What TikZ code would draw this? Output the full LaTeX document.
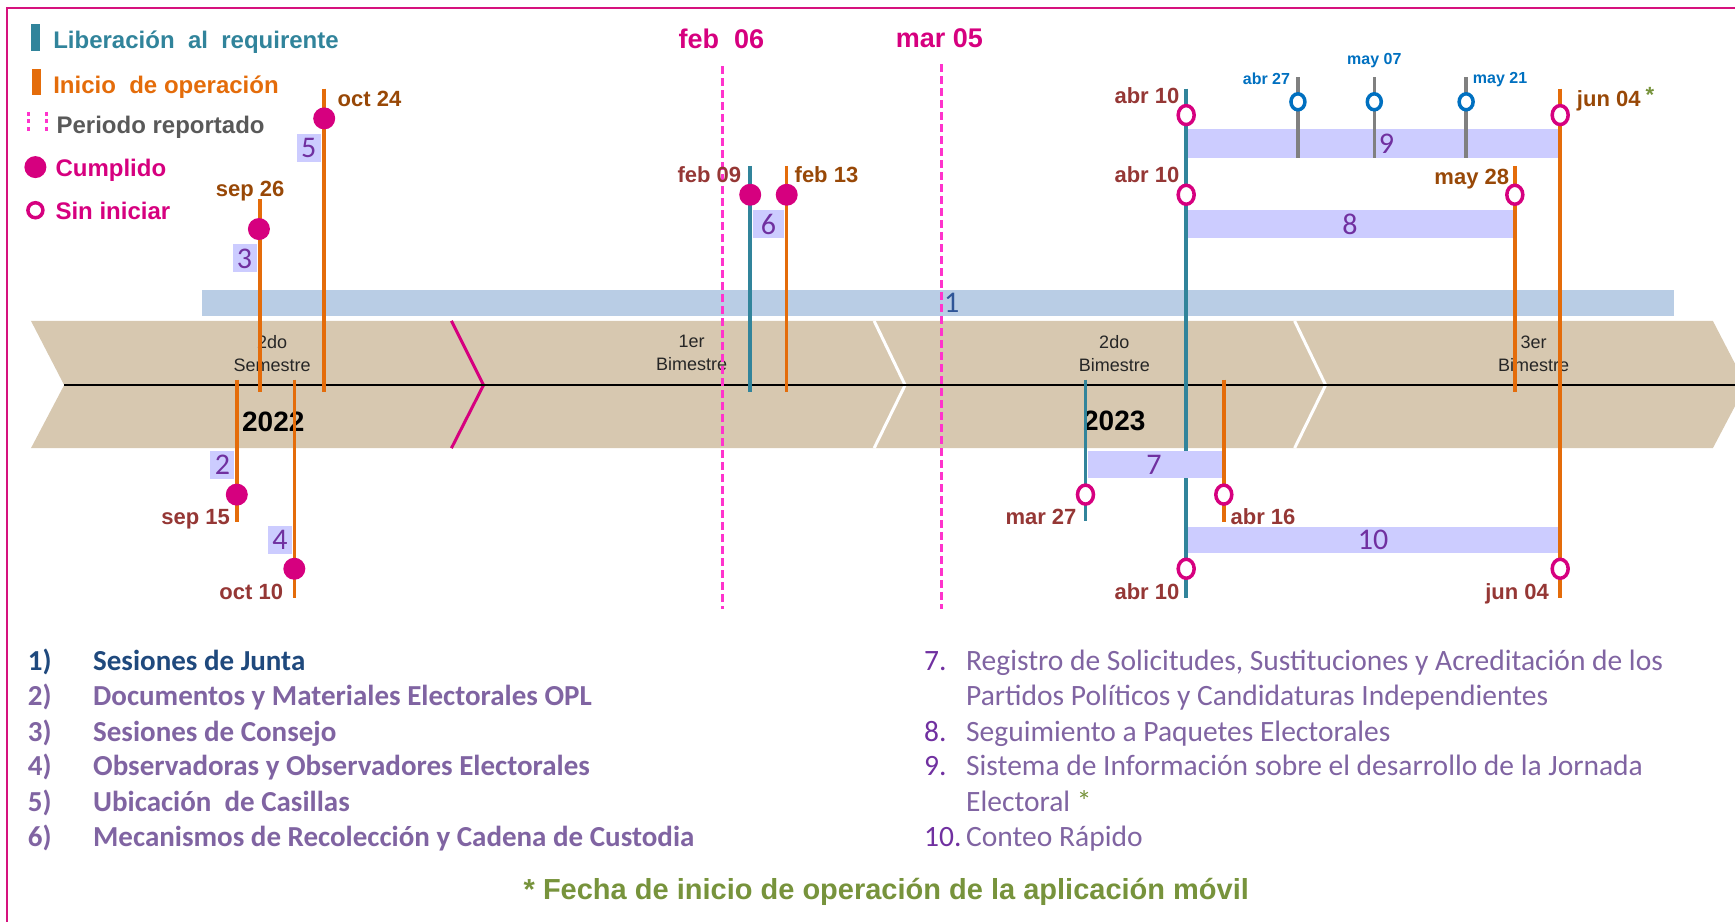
\documentclass[tikz,border=0pt]{standalone}
\usepackage{fontspec}
\setmainfont{Liberation Sans}
\newfontfamily\calfont{Carlito}
\usetikzlibrary{shapes.geometric}
\definecolor{marco}{RGB}{214,18,126}
\definecolor{rosa}{RGB}{214,0,127}
\definecolor{perrosa}{RGB}{255,51,204}
\definecolor{libteal}{RGB}{49,132,155}
\definecolor{inior}{RGB}{228,108,10}
\definecolor{grisln}{RGB}{128,128,128}
\definecolor{gristx}{RGB}{89,89,89}
\definecolor{azul}{RGB}{0,112,192}
\definecolor{barauno}{RGB}{185,205,229}
\definecolor{lila}{RGB}{204,204,255}
\definecolor{tan}{RGB}{215,200,176}
\definecolor{morado}{RGB}{112,48,160}
\definecolor{lavtx}{RGB}{128,100,162}
\definecolor{azulosc}{RGB}{31,73,125}
\definecolor{azulnum}{RGB}{47,85,151}
\definecolor{fecharoja}{RGB}{149,55,53}
\definecolor{fechacafe}{RGB}{152,72,7}
\definecolor{verde}{RGB}{119,147,60}
\begin{document}
\begin{tikzpicture}[x=1.1065pt,y=-1.1065pt,
  lib/.style={draw=libteal,line width=3.5pt},
  ini/.style={draw=inior,line width=3.5pt},
  gris/.style={draw=grisln,line width=3.5pt},
  periodo/.style={draw=perrosa,line width=2.8pt,dash pattern=on 8pt off 4pt},
  hecho/.style={circle,fill=rosa,minimum size=22pt,inner sep=0pt},
  pend/.style={ellipse,draw=rosa,fill=white,line width=3.5pt,minimum width=16pt,minimum height=19pt,inner sep=0pt},
  pendaz/.style={pend,draw=azul,minimum width=14pt,minimum height=16pt},
  numbox/.style={fill=lila,text=morado,font=\calfont\fontsize{30}{30}\selectfont,inner sep=0pt,minimum width=24pt,minimum height=28pt},
  numtxt/.style={text=morado,font=\calfont\fontsize{30}{30}\selectfont,inner sep=0pt},
  fecha/.style={font=\bfseries\fontsize{22}{22}\selectfont,inner sep=0pt,text height=20pt,text depth=1pt},
  fechaaz/.style={font=\bfseries\fontsize{16}{16}\selectfont,inner sep=0pt,text=azul,text height=12.5pt,text depth=1.3pt},
  ley/.style={anchor=west,font=\bfseries\fontsize{24}{24}\selectfont,inner sep=0pt,text height=20pt,text depth=1pt},
  banda/.style={align=center,font=\fontsize{18}{23}\selectfont,inner sep=0pt,text=black!85},
  anio/.style={font=\bfseries\fontsize{28}{28}\selectfont,inner sep=0pt},
  lista/.style={anchor=west,font=\calfont\fontsize{29.5}{29.5}\selectfont,inner sep=0pt,text height=23pt,text depth=1pt},
  listab/.style={lista,font=\calfont\bfseries\fontsize{29}{29}\selectfont}
]
\useasboundingbox (0,0) rectangle (1568,833);
\draw[marco,line width=2pt] (6,840)--(6,7)--(1580,7);
% leyenda
\fill[libteal] (28,22) rectangle (36,46);
\node[ley,text=libteal] (lglib) at (48,35) {Liberación\ \ al\ \ requirente};
\fill[inior] (29,62) rectangle (37,86);
\node[ley,text=inior] (lgini) at (48,76) {Inicio\ \ de\ operación};
\draw[perrosa,line width=3pt,dash pattern=on 4pt off 3.5pt] (26,101)--(26,121);
\draw[perrosa,line width=3pt,dash pattern=on 4pt off 3.5pt] (42,101)--(42,121);
\node[ley,text=gristx] (lgper) at (51,112) {Periodo\ reportado};
\node[hecho] (lghecho) at (32,151) {};
\node[ley,text=rosa] (lgcum) at (50,151) {Cumplido};
\node[pend,minimum width=15pt,minimum height=15pt] (lgpend) at (32,190) {};
\node[ley,text=rosa] (lgsin) at (50,190) {Sin iniciar};
% barra 1 y banda
\fill[barauno] (183,262) rectangle (1513,286);
\node[numtxt,text=azulnum] (n1) at (860,274) {1};
\fill[tan] (28,290)--(1548,290)--(1578,348)--(1548,405)--(28,405)--(58,348)--cycle;
\draw[rosa,line width=3pt] (408,290)--(437,348)--(408,405);
\draw[white,line width=3pt] (790,290)--(818,348)--(790,405);
\draw[white,line width=3pt] (1170,290)--(1198,348)--(1170,405);
\draw[black,line width=2.2pt] (58,348)--(1568,348);
\node[banda] (sem) at (246,319.5) {2do\\Semestre};
\node[banda] (bim1) at (625,318.5) {1er\\Bimestre};
\node[banda] (bim2) at (1007,319.5) {2do\\Bimestre};
\node[banda] (bim3) at (1386,319.5) {3er\\Bimestre};
\node[anio] (a22) at (247,381) {2022};
\node[anio] (a23) at (1007,380) {2023};
% periodo reportado
\draw[periodo] (653,60)--(653,550);
\draw[periodo] (851,58)--(851,550);
\node[fecha,text=rosa,font=\bfseries\fontsize{27}{27}\selectfont] (p1) at (652,35) {feb\ \ 06};
\node[fecha,text=rosa,font=\bfseries\fontsize{27}{27}\selectfont] (p2) at (849,34) {mar\ 05};
% barras 8 9 10
\draw[lib] (1072,80)--(1072,540);
\fill[lila] (1074,117) rectangle (1410,143);
\fill[lila] (1074,190) rectangle (1368,215);
\fill[lila] (1074,476) rectangle (1410,500);
\fill[lila] (983,408) rectangle (1104,432);
% actividades 2 a 5
\draw[ini] (214,343)--(214,472);
\draw[ini] (235,180)--(235,354);
\draw[ini] (266,343)--(266,540);
\draw[ini] (293,80)--(293,354);
\node[numbox] (n2) at (201,420) {2};
\node[numbox] (n3) at (221,233.5) {3};
\node[numbox] (n4) at (253,488) {4};
\node[numbox] (n5) at (279,134) {5};
\node[hecho] (c2) at (214,447) {};
\node[hecho] (c3) at (234,207) {};
\node[hecho] (c4) at (266,514) {};
\node[hecho] (c5) at (293,107) {};
\node[fecha,text=fecharoja,anchor=east] (f2) at (208,465) {sep 15};
\node[fecha,text=fechacafe] (f3) at (226,169) {sep 26};
\node[fecha,text=fecharoja,anchor=east] (f4) at (256,533) {oct 10};
\node[fecha,text=fechacafe,anchor=west] (f5) at (305,88) {oct 24};
% actividad 6
\draw[lib] (678,150)--(678,354);
\draw[ini] (711,150)--(711,354);
\node[numbox,minimum width=31pt] (n6) at (694.5,202.5) {6};
\node[hecho] (c6a) at (678,176) {};
\node[hecho] (c6b) at (711,176) {};
\node[fecha,text=fecharoja,anchor=east] (f6a) at (670,156) {feb 09};
\node[fecha,text=fechacafe,anchor=west] (f6b) at (718,156) {feb 13};
% actividad 7
\draw[lib] (981,343)--(981,471);
\draw[ini] (1106,343)--(1106,472);
\node[numtxt] (n7) at (1043,420) {7};
\node[pend] (c7a) at (981,447) {};
\node[pend] (c7b) at (1106,447) {};
\node[fecha,text=fecharoja,anchor=east] (f7a) at (973,465) {mar 27};
\node[fecha,text=fecharoja,anchor=west] (f7b) at (1112,465) {abr 16};
% actividades 8 9 10
\draw[ini] (1369,150)--(1369,354);
\draw[ini] (1410,80)--(1410,540);
\draw[gris] (1173,70)--(1173,143);
\draw[gris] (1242,70)--(1242,143);
\draw[gris] (1325,70)--(1325,143);
\node[numtxt] (n8) at (1220,203) {8};
\node[numtxt] (n9) at (1253,130) {9};
\node[numtxt] (n10) at (1241,488) {10};
\node[pend] (c9a) at (1072,104) {};
\node[pend] (c8a) at (1072,176) {};
\node[pend] (c10a) at (1072,514) {};
\node[pend] (c8b) at (1369,176) {};
\node[pend] (c9b) at (1410,104) {};
\node[pend] (c10b) at (1410,514) {};
\node[pendaz] (c9c) at (1173,92) {};
\node[pendaz] (c9d) at (1242,92) {};
\node[pendaz] (c9e) at (1325,92) {};
\node[fecha,text=fecharoja,anchor=east] (f9a) at (1066,85) {abr 10};
\node[fecha,text=fecharoja,anchor=east] (f8a) at (1066,156) {abr 10};
\node[fecha,text=fecharoja,anchor=east] (f10a) at (1066,533) {abr 10};
\node[fecha,text=fechacafe,anchor=east] (f8b) at (1364,158) {may 28};
\node[fecha,text=fechacafe,anchor=west] (f9b) at (1425,88) {jun 04};
\node[fecha,text=verde,anchor=west] (ast) at (1487,84) {*};
\node[fecha,text=fecharoja,anchor=east] (f10b) at (1400,533) {jun 04};
\node[fechaaz,anchor=east] (f9c) at (1166,71) {abr 27};
\node[fechaaz] (f9d) at (1242,53) {may\ 07};
\node[fechaaz,anchor=west] (f9e) at (1331,70) {may\ 21};
% lista
\node[listab,text=azulosc] (l1) at (25,596) {1)};
\node[listab,text=azulosc] (t1) at (84,596) {Sesiones de Junta};
\foreach \y/\k/\txt in {628/2/Documentos y Materiales Electorales OPL,660/3/Sesiones de Consejo,691/4/Observadoras y Observadores Electorales,723/5/Ubicación\ \ de Casillas,755/6/Mecanismos de Recolección y Cadena de Custodia}{
  \node[listab,text=lavtx] (l\k) at (25,\y) {\k)};
  \node[listab,text=lavtx] (t\k) at (84,\y) {\txt};
}
\node[lista,text=morado] (l7) at (835,596) {7.};
\node[lista,text=lavtx] (t7) at (873,596) {Registro de Solicitudes, Sustituciones y Acreditación de los};
\node[lista,text=lavtx] (t7b) at (873,628) {Partidos Políticos y Candidaturas Independientes};
\node[lista,text=morado] (l8) at (835,660) {8.};
\node[lista,text=lavtx] (t8) at (873,660) {Seguimiento a Paquetes Electorales};
\node[lista,text=morado] (l9) at (835,691) {9.};
\node[lista,text=lavtx] (t9) at (873,691) {Sistema de Información sobre el desarrollo de la Jornada};
\node[lista,text=lavtx] (t9b) at (873,723) {Electoral \textcolor{verde}{*}};
\node[lista,text=morado] (l10) at (835,755) {10.};
\node[lista,text=lavtx] (t10) at (873,755) {Conteo Rápido};
\node[text=verde,font=\bfseries\fontsize{29}{29}\selectfont,inner sep=0pt] (nota) at (801,806) {* Fecha de inicio de operación de la aplicación móvil};
\end{tikzpicture}
\end{document}
